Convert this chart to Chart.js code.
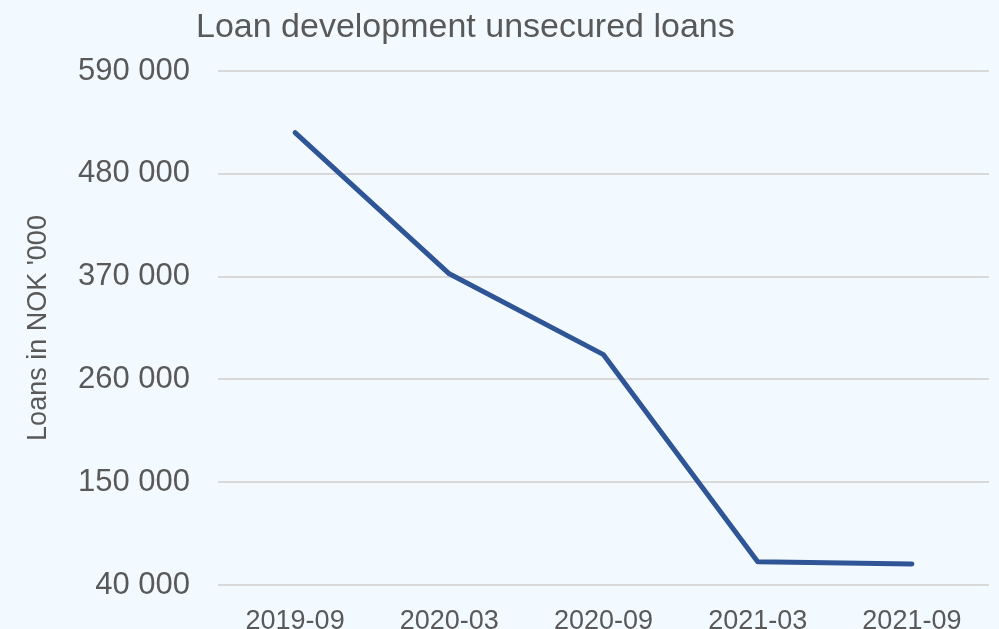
<!DOCTYPE html>
<html>
<head>
<meta charset="utf-8">
<script src="https://cdn.jsdelivr.net/npm/chart.js@4"></script>
<style>
  html, body { margin: 0; padding: 0; background: #f2faff; }
  #wrap { position: relative; width: 999px; height: 629px; }
  #title {
    position: absolute; left: 196px; top: 8px;
    font-family: 'Liberation Sans', Arial, sans-serif;
    font-size: 34px; line-height: 34px; color: #595959;
    white-space: nowrap;
  }
  canvas { position: absolute; left: 0; top: 0; }
</style>
</head>
<body>
<div id="wrap">
  <canvas id="chart" width="999" height="629"></canvas>
  <div id="title">Loan development unsecured loans</div>
</div>
<script>
const periods = ['2019-09', '2020-03', '2020-09', '2021-03', '2021-09'];
const loanValues = [524000, 373000, 286500, 65000, 62500];
const yTicks = [40000, 150000, 260000, 370000, 480000, 590000];

const fmt = v => String(v).replace(/\B(?=(\d{3})+(?!\d))/g, ' ');

const ctx = document.getElementById('chart').getContext('2d');
new Chart(ctx, {
    type: 'line',
    data: {
        labels: periods,
        datasets: [{
            label: 'Unsecured loans',
            data: loanValues,
            borderColor: '#2f5597',
            borderWidth: 5,
            borderCapStyle: 'round',
            borderJoinStyle: 'round',
            pointRadius: 0,
            tension: 0,
            fill: false
        }]
    },
    options: {
        responsive: false,
        animation: false,
        layout: { padding: { top: 71, right: 10, left: 0, bottom: 0 } },
        plugins: {
            legend: { display: false },
            tooltip: { enabled: false }
        },
        scales: {
            x: {
                offset: true,
                grid: { display: false, drawTicks: false },
                border: { display: false },
                ticks: {
                    color: '#595959',
                    font: { family: 'Liberation Sans', size: 27 },
                    padding: 20,
                    maxRotation: 0
                },
                afterFit: s => { s.height = 44; s.paddingLeft = 0; s.paddingRight = 0; }
            },
            y: {
                min: yTicks[0],
                max: yTicks[yTicks.length - 1],
                afterBuildTicks: s => { s.ticks = yTicks.map(v => ({ value: v })); },
                grid: { color: '#d9d9d9', lineWidth: 2, drawTicks: false },
                border: { display: false },
                ticks: {
                    color: '#595959',
                    font: { family: 'Liberation Sans', size: 31 },
                    padding: 28,
                    callback: v => fmt(v)
                },
                title: {
                    display: true,
                    text: "Loans in NOK '000",
                    color: '#595959',
                    font: { family: 'Liberation Sans', size: 27 },
                    padding: { top: 22, bottom: 0 }
                },
                afterFit: s => { s.width = 218; s.paddingTop = 0; s.paddingBottom = 0; }
            }
        }
    }
});
</script>
</body>
</html>
